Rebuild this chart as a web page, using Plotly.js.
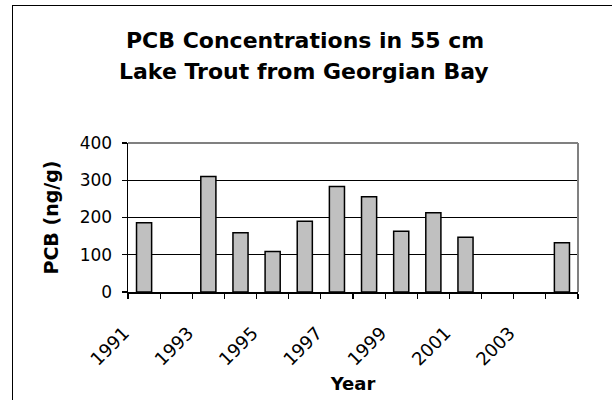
<!DOCTYPE html>
<html>
<head>
<meta charset="utf-8">
<script src="https://cdn.plot.ly/plotly-3.0.1.min.js"></script>
<style>
  html, body { margin: 0; padding: 0; background: #fff; overflow: hidden; }
  #chart { position: absolute; left: 0; top: 0; width: 612px; height: 400px; }
  #frame { position: absolute; left: 12px; top: 5px; width: 640px; height: 440px;
           border: 1.5px solid #000; pointer-events: none; }
</style>
</head>
<body>
<div id="chart"></div>
<div id="frame"></div>
<script>
const years = [1991, 1992, 1993, 1994, 1995, 1996, 1997, 1998, 1999, 2000, 2001, 2002, 2003, 2004];
const pcb   = [186, null, 310, 159, 109, 190, 283, 256, 163, 213, 147, null, null, 132];
const yearLabels = [1991, 1993, 1995, 1997, 1999, 2001, 2003];
const titleLines = ["PCB Concentrations in 55 cm", "Lake Trout from Georgian Bay"];

const boundaries = [];
for (let i = 0; i <= years.length; i++) boundaries.push(years[0] - 0.5 + i);

const font = "DejaVu Sans, Verdana, sans-serif";

const trace = {
  type: "bar",
  x: years,
  y: pcb,
  width: 0.47,
  marker: { color: "#c0c0c0", line: { color: "#000", width: 1.5 } },
  hoverinfo: "x+y"
};

const layout = {
  width: 612, height: 400,
  margin: { l: 128, r: 34, t: 143, b: 108 },
  paper_bgcolor: "#fff", plot_bgcolor: "#fff",
  showlegend: false,
  font: { family: font, color: "#000" },
  xaxis: {
    type: "linear",
    range: [years[0] - 0.5, years[years.length - 1] + 0.5],
    tickmode: "array",
    tickvals: yearLabels,
    ticktext: yearLabels.map(String),
    tickangle: -45,
    ticks: "",
    ticklabelstandoff: 22,
    ticklabelshift: -20,
    tickfont: { size: 18, family: font },
    showgrid: false, zeroline: false,
    showline: true, linecolor: "#000", linewidth: 1.5,
    minor: { tickmode: "array", tickvals: boundaries, ticks: "outside", ticklen: 5, tickcolor: "#000", tickwidth: 1.2, showgrid: false },
    title: { text: "<b>Year</b>", font: { size: 18, family: font }, standoff: 8 }
  },
  yaxis: {
    range: [0, 400],
    dtick: 100,
    ticks: "outside", ticklen: 5, tickcolor: "#000", tickwidth: 1.2,
    ticklabelstandoff: 6,
    tickfont: { size: 17, family: font },
    showgrid: true, gridcolor: "#000", gridwidth: 1,
    zeroline: false,
    showline: true, linecolor: "#000", linewidth: 1.5,
    title: { text: "<b>PCB (ng/g)</b>", font: { size: 19, family: font }, standoff: 16 }
  },
  shapes: [
    { type: "line", xref: "paper", yref: "paper", x0: 0, x1: 1, y0: 1, y1: 1, line: { color: "#808080", width: 2 }, layer: "above" },
    { type: "line", xref: "paper", yref: "paper", x0: 1, x1: 1, y0: 0, y1: 1, line: { color: "#808080", width: 2 }, layer: "above" }
  ],
  annotations: [
    { text: "<b>" + titleLines[0] + "</b>", xref: "paper", yref: "paper", x: (305 - 128) / 450, y: 1 + (143 - 40) / 149,
      showarrow: false, xanchor: "center", yanchor: "middle", font: { size: 22, family: font, color: "#000" } },
    { text: "<b>" + titleLines[1] + "</b>", xref: "paper", yref: "paper", x: (304 - 128) / 450, y: 1 + (143 - 71) / 149,
      showarrow: false, xanchor: "center", yanchor: "middle", font: { size: 22, family: font, color: "#000" } }
  ]
};

Plotly.newPlot("chart", [trace], layout, { displayModeBar: false, staticPlot: true });
</script>
</body>
</html>
